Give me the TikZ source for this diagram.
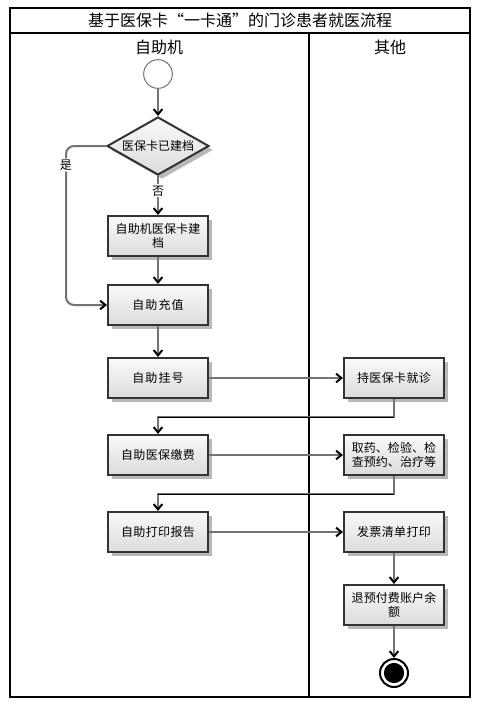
\documentclass[tikz,border=0pt]{standalone}
\usepackage{fontspec}
\setmainfont{Noto Sans CJK SC}
\XeTeXlinebreaklocale "zh"
\XeTeXlinebreakskip=0pt plus 1pt
\usetikzlibrary{shapes.geometric,arrows.meta,shadows}

\tikzset{every picture/.style={line width=0.75pt}}
\tikzset{
actbox/.style={rectangle, draw=black!80, line width=1.5, top color=black!2, bottom color=black!14,
  drop shadow={shadow xshift=3pt, shadow yshift=-3pt, fill=black!28, opacity=1},
  minimum width=75pt, minimum height=30pt, text width=66pt, align=center, inner sep=0pt,
  font=\fontsize{9}{10.5}\selectfont},
decbox/.style={diamond, aspect=1.75, draw=black!80, line width=1.5, top color=black!2, bottom color=black!14,
  drop shadow={shadow xshift=3pt, shadow yshift=-3pt, fill=black!28, opacity=1},
  minimum width=76.5pt, minimum height=43.5pt, inner sep=0pt, font=\fontsize{9}{10.5}\selectfont},
startnode/.style={circle, draw=black!55, fill=white, line width=0.75, minimum size=21.5pt, inner sep=0pt},
endnode/.style={circle, draw=black, fill=white, line width=1.5, minimum size=21pt, inner sep=0pt,
  path picture={\fill[black] (path picture bounding box.center) circle (7.6pt);}},
flow/.style={draw=black!55, line width=1.5, -{Straight Barb[length=4pt,width=6.5pt,black]}},
hline/.style={draw=black, line width=0.75},
lbl/.style={fill=white, inner sep=1pt, font=\fontsize{9}{10}\selectfont},
lane/.style={font=\fontsize{12}{14}\selectfont}
}

\begin{document}
\begin{tikzpicture}[x=0.75pt,y=0.75pt,yscale=-1,xscale=1]
\useasboundingbox (0,0) rectangle (492,718); %diagram of 492 by 718

%Shape: Frame and swimlanes
\draw [line width=1.5] (10,8) rectangle (470,697) ;
\draw [line width=1.5] (10,33) -- (470,33) ;
\draw [line width=1.5] (309,33) -- (309,697) ;
\node [lane] (title) at (240,20) {基于医保卡“一卡通”的门诊患者就医流程};
\node [lane] (laneA) at (159,47) {自助机};
\node [lane] (laneB) at (390,47) {其他};

%Shape: Circle
\node [startnode] (start) at (158,74) {};
%Shape: Diamond
\node [decbox] (card) at (158,146) {医保卡已建档};
%Shape: Rectangle
\node [actbox] (build) at (158,236) {自助机医保卡建\\档};
\node [actbox] (topup) at (158,305) {自助充值};
\node [actbox] (reg) at (158,378) {自助挂号};
\node [actbox] (pay) at (158,455) {自助医保缴费};
\node [actbox] (report) at (158,532) {自助打印报告};
\node [actbox] (visit) at (394,378) {持医保卡就诊};
\node [actbox] (drug) at (394,455) {取药、检验、检\\查预约、治疗等};
\node [actbox] (invoice) at (394,532) {发票清单打印};
\node [actbox] (refund) at (394,605) {退预付费账户余\\额};
%Shape: Final node
\node [endnode] (end) at (394,673) {};

%Straight Lines
\draw [flow] (start) -- (card) ;
\draw [flow] (card) -- node [lbl, pos=0.38] {否} (build) ;
\draw [flow, rounded corners=6] (card.west) -- ++(-40,0) |- node [lbl, pos=0.06] {是} (topup.west) ;
\draw [flow] (build) -- (topup) ;
\draw [flow] (topup) -- (reg) ;
\draw [flow] (reg) -- (visit) ;
\draw [flow] (visit.south) -- ++(0,18) coordinate (t1) -| (pay.north) ;
\draw [hline] (t1) -- (t1 -| pay.north) ;
\draw [flow] (pay) -- (drug) ;
\draw [flow] (drug.south) -- ++(0,18) coordinate (t2) -| (report.north) ;
\draw [hline] (t2) -- (t2 -| report.north) ;
\draw [flow] (report) -- (invoice) ;
\draw [flow] (invoice) -- (refund) ;
\draw [flow] (refund) -- (end) ;
\end{tikzpicture}
\end{document}
